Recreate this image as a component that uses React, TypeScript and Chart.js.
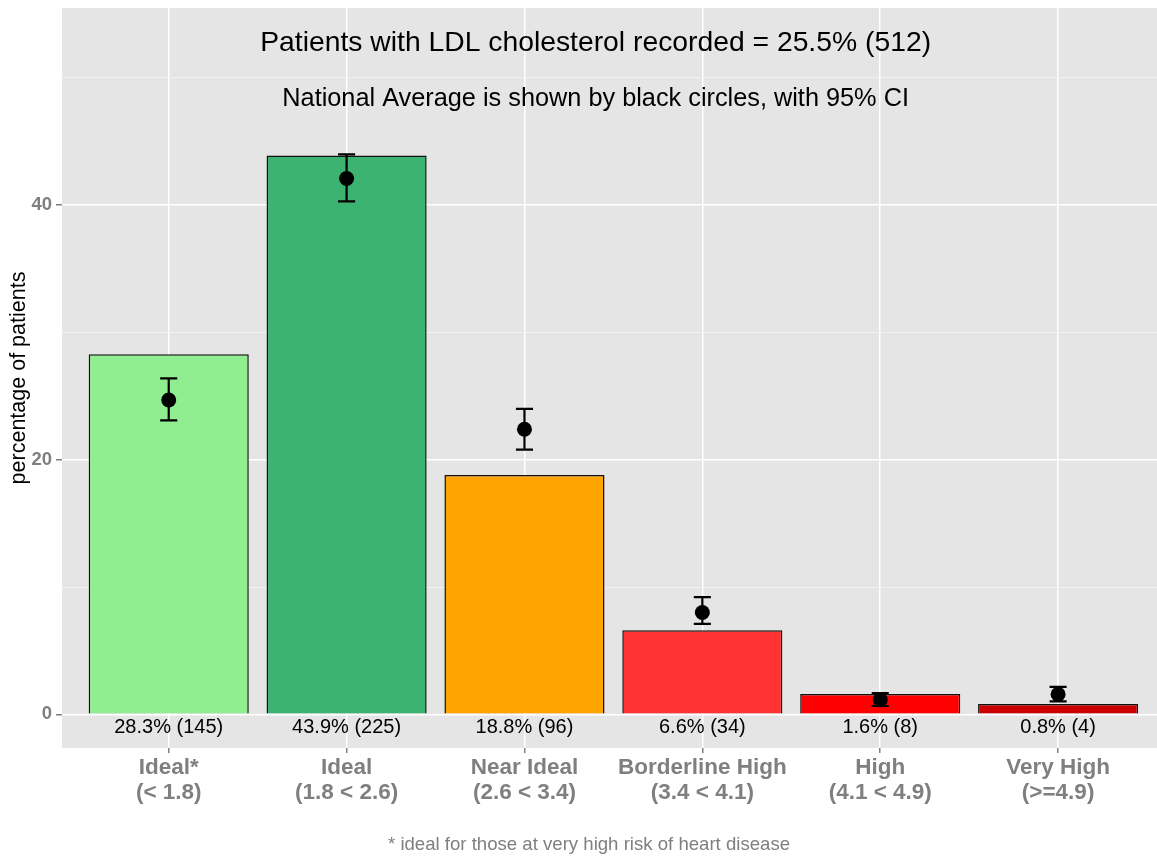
import React, { useEffect, useRef } from "react";
import { Chart, registerables } from "chart.js";

Chart.register(...registerables);

const CATEGORIES = ["Ideal*", "Ideal", "Near Ideal", "Borderline High", "High", "Very High"];
const RANGES = ["(< 1.8)", "(1.8 < 2.6)", "(2.6 < 3.4)", "(3.4 < 4.1)", "(4.1 < 4.9)", "(>=4.9)"];
const PRACTICE_PCT = [28.3, 43.9, 18.8, 6.6, 1.6, 0.8];
const PRACTICE_N = [145, 225, 96, 34, 8, 4];
const NATIONAL_MEAN = [24.7, 42.1, 22.4, 8.0, 1.15, 1.57];
const NATIONAL_LO = [23.1, 40.3, 20.8, 7.1, 0.65, 1.02];
const NATIONAL_HI = [26.4, 44.0, 24.0, 9.2, 1.67, 2.15];
const BAR_COLORS = ["#90EE90", "#3CB371", "#FFA500", "#FF3333", "#FF0000", "#CC0000"];
const Y_TICKS = [0, 10, 20, 30, 40, 50];
const TITLE = "Patients with LDL cholesterol recorded = 25.5% (512)";
const SUBTITLE = "National Average is shown by black circles, with 95% CI";
const FOOTNOTE = "* ideal for those at very high risk of heart disease";
const Y_TITLE = "percentage of patients";

const FONT = "'Liberation Sans', Arial, Helvetica, sans-serif";
const GREY = "#7F7F7F";

const backgroundPlugin = {
  id: "ggBackground",
  beforeDraw(chart: any) {
    const { ctx, chartArea, width, height } = chart;
    ctx.save();
    ctx.fillStyle = "#FFFFFF";
    ctx.fillRect(0, 0, width, height);
    ctx.fillStyle = "#E5E5E5";
    ctx.fillRect(chartArea.left, chartArea.top, chartArea.right - chartArea.left, chartArea.bottom - chartArea.top);
    ctx.restore();
  },
};

const overlayPlugin = {
  id: "ggOverlay",
  afterDatasetsDraw(chart: any) {
    const { ctx, scales } = chart;
    const xs = scales.x;
    const ys = scales.y;
    ctx.save();
    // error bars
    ctx.strokeStyle = "#000";
    ctx.lineWidth = 2.2;
    const half = 0.048;
    NATIONAL_MEAN.forEach((_, i) => {
      const x = xs.getPixelForValue(i);
      const xl = xs.getPixelForValue(i - half);
      const xr = xs.getPixelForValue(i + half);
      const yl = ys.getPixelForValue(NATIONAL_LO[i]);
      const yh = ys.getPixelForValue(NATIONAL_HI[i]);
      ctx.beginPath();
      ctx.moveTo(x, yl);
      ctx.lineTo(x, yh);
      ctx.moveTo(xl, yl);
      ctx.lineTo(xr, yl);
      ctx.moveTo(xl, yh);
      ctx.lineTo(xr, yh);
      ctx.stroke();
    });
    // bar labels
    ctx.fillStyle = "#000";
    ctx.font = `20px ${FONT}`;
    ctx.textAlign = "center";
    ctx.textBaseline = "middle";
    PRACTICE_PCT.forEach((p, i) => {
      ctx.fillText(`${p.toFixed(1)}% (${PRACTICE_N[i]})`, xs.getPixelForValue(i), ys.getPixelForValue(-1.0));
    });
    // titles
    ctx.font = `28.3px ${FONT}`;
    ctx.fillText(TITLE, xs.getPixelForValue(2.4), ys.getPixelForValue(52.75));
    ctx.font = `25.3px ${FONT}`;
    ctx.fillText(SUBTITLE, xs.getPixelForValue(2.4), ys.getPixelForValue(48.35));
    ctx.restore();
  },
  afterDraw(chart: any) {
    const { ctx } = chart;
    ctx.save();
    ctx.fillStyle = GREY;
    ctx.font = `18.6px ${FONT}`;
    ctx.textAlign = "center";
    ctx.textBaseline = "middle";
    ctx.fillText(FOOTNOTE, 589, 845);
    ctx.restore();
  },
};

export default function App() {
  const canvasRef = useRef<HTMLCanvasElement | null>(null);

  useEffect(() => {
    const canvas = canvasRef.current;
    if (!canvas) return;
    const isMajor = (c: any) => c.tick && c.tick.value % 20 === 0;
    const chart = new Chart(canvas, {
      type: "bar",
      data: {
        datasets: [
          {
            type: "scatter",
            data: NATIONAL_MEAN.map((y, i) => ({ x: i, y })),
            pointRadius: 7.5,
            pointBackgroundColor: "#000",
            pointBorderWidth: 0,
            order: 0,
          } as any,
          {
            type: "bar",
            data: PRACTICE_PCT.map((y, i) => ({ x: i, y })),
            backgroundColor: BAR_COLORS,
            borderColor: "#111",
            borderWidth: 1.5,
            barPercentage: 0.9,
            categoryPercentage: 1,
            order: 1,
          } as any,
        ],
      },
      options: {
        responsive: false,
        animation: false,
        layout: { autoPadding: false, padding: { top: 8, left: 0, right: 0, bottom: 0 } },
        plugins: { legend: { display: false }, tooltip: { enabled: false }, title: { display: false } },
        scales: {
          x: {
            type: "linear",
            offset: false,
            min: -0.6,
            max: 5.556,
            afterBuildTicks: (s: any) => {
              s.ticks = CATEGORIES.map((_, i) => ({ value: i }));
            },
            afterFit: (s: any) => {
              s.height = 109;
              s.paddingLeft = 0;
              s.paddingRight = 0;
            },
            ticks: {
              callback: (v: any) => [CATEGORIES[v], RANGES[v]],
              font: { family: FONT, size: 22.5, weight: "bold", lineHeight: 1.13 },
              color: GREY,
              maxRotation: 0,
              autoSkip: false,
              padding: 2,
            },
            grid: { color: "#FFFFFF", lineWidth: 1.5, tickColor: GREY, tickLength: 5, offset: false },
            border: { display: false },
          },
          y: {
            min: -2.65,
            max: 55.5,
            afterBuildTicks: (s: any) => {
              s.ticks = Y_TICKS.map((v) => ({ value: v }));
            },
            afterFit: (s: any) => {
              s.width = 62;
              s.paddingTop = 0;
              s.paddingBottom = 0;
            },
            ticks: {
              callback: (v: any) => (v % 20 === 0 ? String(v) : ""),
              font: { family: FONT, size: 18.5, weight: "bold" },
              color: GREY,
              padding: 4,
            },
            grid: {
              color: (c: any) => (isMajor(c) ? "#FFFFFF" : "#F2F2F2"),
              lineWidth: (c: any) => (isMajor(c) ? 1.5 : 1),
              tickColor: (c: any) => (isMajor(c) ? GREY : "rgba(0,0,0,0)"),
              tickLength: 6,
            },
            border: { display: false },
            title: {
              display: true,
              text: Y_TITLE,
              font: { family: FONT, size: 21.5 },
              color: "#000",
              padding: { top: 6, bottom: 0 },
            },
          },
        },
      } as any,
      plugins: [backgroundPlugin, overlayPlugin],
    });
    return () => chart.destroy();
  }, []);

  return (
    <div style={{ position: "fixed", left: 0, top: 0, width: 1157, height: 857, background: "#fff" }}>
      <canvas ref={canvasRef} width={1157} height={857} style={{ display: "block" }} />
    </div>
  );
}
